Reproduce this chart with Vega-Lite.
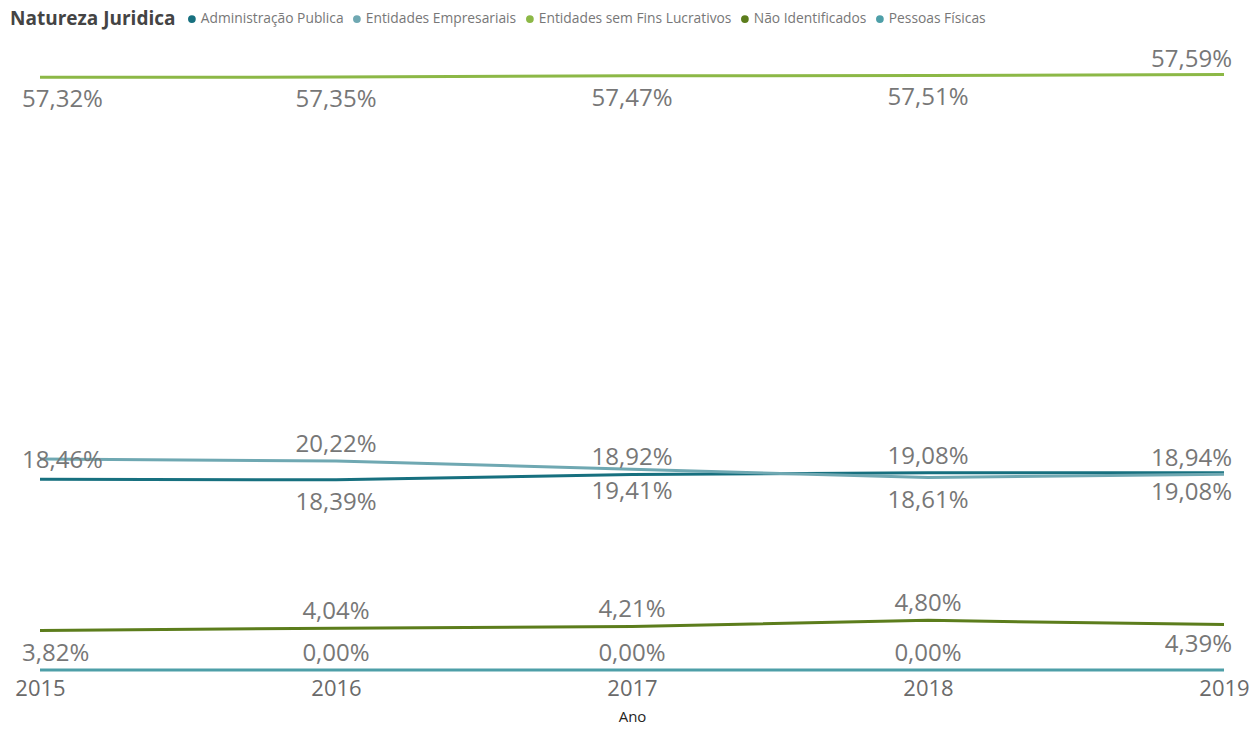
{
  "$schema": "https://vega.github.io/schema/vega-lite/v6.json",
  "autosize": {"type": "none"},
  "width": 1184,
  "height": 610,
  "padding": {"left": 40, "top": 60, "right": 29, "bottom": 63},
  "background": "white",
  "config": {
    "view": {"stroke": null},
    "font": "Open Sans"
  },
  "data": {
    "values": [
      {"Ano": "2015", "Natureza": "Administração Publica", "v": 18.46, "lbl": "above"},
      {"Ano": "2016", "Natureza": "Administração Publica", "v": 18.39, "lbl": "below"},
      {"Ano": "2017", "Natureza": "Administração Publica", "v": 18.92, "lbl": "above"},
      {"Ano": "2018", "Natureza": "Administração Publica", "v": 19.08, "lbl": "above"},
      {"Ano": "2019", "Natureza": "Administração Publica", "v": 19.08, "lbl": "below"},
      {"Ano": "2015", "Natureza": "Entidades Empresariais", "v": 20.40, "lbl": "none"},
      {"Ano": "2016", "Natureza": "Entidades Empresariais", "v": 20.22, "lbl": "above"},
      {"Ano": "2017", "Natureza": "Entidades Empresariais", "v": 19.41, "lbl": "below"},
      {"Ano": "2018", "Natureza": "Entidades Empresariais", "v": 18.61, "lbl": "below"},
      {"Ano": "2019", "Natureza": "Entidades Empresariais", "v": 18.94, "lbl": "above"},
      {"Ano": "2015", "Natureza": "Entidades sem Fins Lucrativos", "v": 57.32, "lbl": "below"},
      {"Ano": "2016", "Natureza": "Entidades sem Fins Lucrativos", "v": 57.35, "lbl": "below"},
      {"Ano": "2017", "Natureza": "Entidades sem Fins Lucrativos", "v": 57.47, "lbl": "below"},
      {"Ano": "2018", "Natureza": "Entidades sem Fins Lucrativos", "v": 57.51, "lbl": "below"},
      {"Ano": "2019", "Natureza": "Entidades sem Fins Lucrativos", "v": 57.59, "lbl": "above"},
      {"Ano": "2015", "Natureza": "Não Identificados", "v": 3.82, "lbl": "below"},
      {"Ano": "2016", "Natureza": "Não Identificados", "v": 4.04, "lbl": "above"},
      {"Ano": "2017", "Natureza": "Não Identificados", "v": 4.21, "lbl": "above"},
      {"Ano": "2018", "Natureza": "Não Identificados", "v": 4.80, "lbl": "above"},
      {"Ano": "2019", "Natureza": "Não Identificados", "v": 4.39, "lbl": "below"},
      {"Ano": "2015", "Natureza": "Pessoas Físicas", "v": 0.0, "lbl": "none"},
      {"Ano": "2016", "Natureza": "Pessoas Físicas", "v": 0.0, "lbl": "above"},
      {"Ano": "2017", "Natureza": "Pessoas Físicas", "v": 0.0, "lbl": "above"},
      {"Ano": "2018", "Natureza": "Pessoas Físicas", "v": 0.0, "lbl": "above"},
      {"Ano": "2019", "Natureza": "Pessoas Físicas", "v": 0.0, "lbl": "none"}
    ]
  },
  "transform": [
    {"calculate": "replace(format(datum.v, '.2f'), '.', ',') + '%'", "as": "txt"}
  ],
  "encoding": {
    "x": {
      "field": "Ano", "type": "ordinal",
      "scale": {"type": "point", "padding": 0},
      "axis": {
        "title": "Ano", "labelAngle": 0, "labelFontSize": 22, "labelColor": "#6A6A6A",
        "labelPadding": 8, "domain": false, "ticks": false, "grid": false,
        "titleFontSize": 15, "titleFontWeight": "normal", "titleColor": "#252423",
        "titlePadding": 10, "labelFont": "Open Sans", "titleFont": "Open Sans"
      }
    },
    "y": {
      "field": "v", "type": "quantitative",
      "scale": {"domain": [0, 59], "nice": false, "zero": true},
      "axis": null
    }
  },
  "layer": [
    {
      "mark": {"type": "line", "strokeWidth": 3, "interpolate": "linear"},
      "encoding": {
        "color": {
          "field": "Natureza", "type": "nominal",
          "scale": {
            "domain": ["Administração Publica", "Entidades Empresariais", "Entidades sem Fins Lucrativos", "Não Identificados", "Pessoas Físicas"],
            "range": ["#17707F", "#6FA8B2", "#8CB846", "#5C7D1C", "#4E9FA8"]
          },
          "legend": {
            "orient": "none", "legendX": -30, "legendY": -48,
            "direction": "horizontal", "title": "Natureza Juridica",
            "titleOrient": "left", "titleFontSize": 19, "titleFontWeight": "bold",
            "titleColor": "#444444", "titleFont": "Open Sans", "titlePadding": 9,
            "labelFontSize": 13.8, "labelColor": "#777777", "labelFont": "Open Sans",
            "labelLimit": 400,
            "symbolType": "circle", "symbolSize": 60, "symbolStrokeWidth": 0,
            "labelOffset": 2, "columnPadding": 6, "symbolOffset": 0,
            "encode": {"symbols": {"update": {"fill": {"scale": "color", "field": "value"}, "fillOpacity": {"value": 1}}}}
          }
        }
      }
    },
    {
      "transform": [{"filter": "datum.Ano == '2015' && datum.lbl == 'above'"}],
      "mark": {"type": "text", "align": "left", "baseline": "middle", "dx": -18, "dy": -18, "fontSize": 24, "color": "#777777", "font": "Open Sans"},
      "encoding": {"text": {"field": "txt"}}
    },
    {
      "transform": [{"filter": "datum.Ano == '2015' && datum.lbl == 'below'"}],
      "mark": {"type": "text", "align": "left", "baseline": "middle", "dx": -18, "dy": 23, "fontSize": 24, "color": "#777777", "font": "Open Sans"},
      "encoding": {"text": {"field": "txt"}}
    },
    {
      "transform": [{"filter": "datum.Ano != '2015' && datum.Ano != '2019' && datum.lbl == 'above'"}],
      "mark": {"type": "text", "align": "center", "baseline": "middle", "dy": -16, "fontSize": 24, "color": "#777777", "font": "Open Sans"},
      "encoding": {"text": {"field": "txt"}}
    },
    {
      "transform": [{"filter": "datum.Ano != '2015' && datum.Ano != '2019' && datum.lbl == 'below'"}],
      "mark": {"type": "text", "align": "center", "baseline": "middle", "dy": 23, "fontSize": 24, "color": "#777777", "font": "Open Sans"},
      "encoding": {"text": {"field": "txt"}}
    },
    {
      "transform": [{"filter": "datum.Ano == '2019' && datum.lbl == 'above'"}],
      "mark": {"type": "text", "align": "right", "baseline": "middle", "dx": 8, "dy": -15, "fontSize": 24, "color": "#777777", "font": "Open Sans"},
      "encoding": {"text": {"field": "txt"}}
    },
    {
      "transform": [{"filter": "datum.Ano == '2019' && datum.lbl == 'below'"}],
      "mark": {"type": "text", "align": "right", "baseline": "middle", "dx": 8, "dy": 20, "fontSize": 24, "color": "#777777", "font": "Open Sans"},
      "encoding": {"text": {"field": "txt"}}
    }
  ]
}
